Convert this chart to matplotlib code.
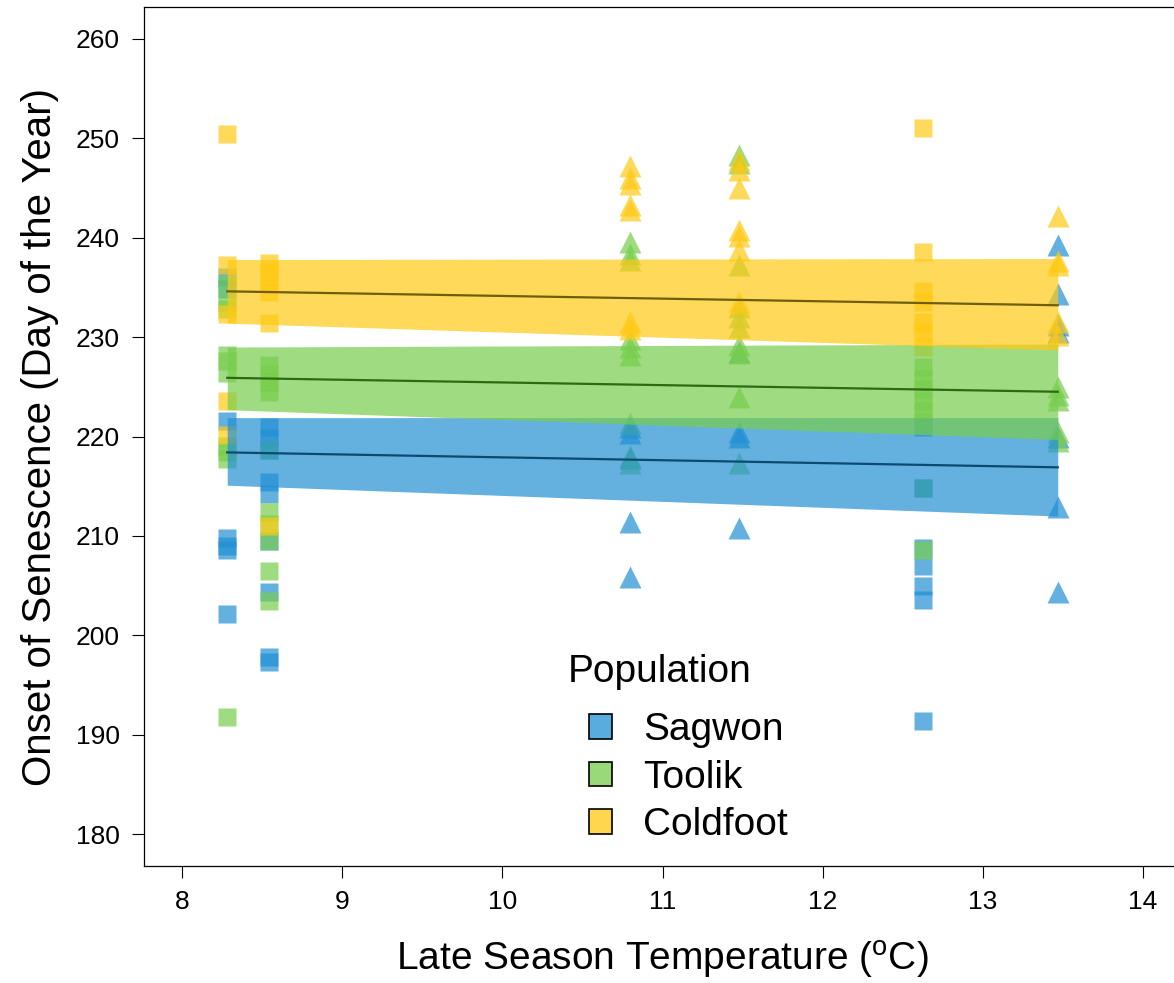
import matplotlib
matplotlib.use("Agg")
import matplotlib.pyplot as plt
from matplotlib.patches import Patch

plt.rcParams['font.family'] = ['Liberation Sans', 'DejaVu Sans']

# populations and colours
populations = ['Sagwon', 'Toolik', 'Coldfoot']
colors = ['#2290D4', '#77CD4C', '#FFC913']
line_colors = ['#0B4A72', '#2E6A14', '#6E5F0A']

# garden temperatures drawn with squares (others with triangles)
square_temps = [8.28, 8.54, 12.63]

# Sagwon
sagwon_temp = [8.28] * 7 + [8.54] * 9 + [10.80] * 5 + [11.48] * 4 + [12.63] * 7 + [13.47] * 7
sagwon_doy = [236.0, 234.8, 221.6, 209.8, 209.0, 208.6, 202.1,
              221.0, 219.8, 218.6, 215.4, 214.2, 209.5, 204.4, 197.8, 197.3,
              221.0, 220.4, 217.8, 211.4, 205.9,
              228.5, 220.5, 220.0, 210.8,
              221.0, 214.8, 208.8, 207.0, 205.0, 203.6, 191.4,
              239.3, 234.3, 231.2, 230.5, 220.0, 212.9, 204.4]

# Toolik
toolik_temp = [8.28] * 10 + [8.54] * 10 + [10.80] * 9 + [11.48] * 10 + [12.63] * 8 + [13.47] * 5
toolik_doy = [235.3, 233.5, 232.8, 228.2, 227.6, 226.4, 219.0, 218.4, 217.7, 191.8,
              227.2, 226.3, 225.5, 224.5, 218.6, 212.4, 211.2, 209.5, 206.5, 203.5,
              239.6, 238.4, 237.8, 229.8, 229.0, 228.2, 221.4, 218.0, 217.3,
              248.3, 247.5, 237.2, 233.0, 232.0, 231.0, 229.2, 228.4, 224.0, 217.3,
              227.0, 225.8, 224.8, 223.6, 222.6, 221.5, 214.8, 208.6,
              225.0, 224.2, 223.7, 220.5, 219.5]

# Coldfoot
coldfoot_temp = [8.28] * 5 + [8.54] * 6 + [10.80] * 7 + [11.48] * 7 + [12.63] * 7 + [13.47] * 5
coldfoot_doy = [250.4, 237.2, 232.3, 223.6, 220.2,
                237.5, 236.5, 235.5, 234.5, 231.4, 211.0,
                247.2, 246.0, 245.4, 243.3, 242.8, 231.5, 230.8,
                247.8, 246.8, 245.0, 240.8, 240.2, 238.8, 233.5,
                251.0, 238.6, 234.6, 233.5, 231.5, 230.5, 229.0,
                242.2, 237.7, 237.2, 231.5, 230.2]

# fitted lines and confidence bands at the ends of the temperature range
fit_temp = [8.28, 13.47]
fit_mid = [[218.4, 216.9], [225.9, 224.5], [234.6, 233.2]]
fit_lo = [[215.1, 212.0], [222.7, 219.7], [231.4, 228.7]]
fit_hi = [[221.9, 221.9], [229.0, 229.3], [237.8, 237.9]]

fig = plt.figure(figsize=(11.74, 9.83), dpi=100)
ax = fig.add_axes([144 / 1174, 117 / 983, 1037 / 1174, 859 / 983])

temps_all = [sagwon_temp, toolik_temp, coldfoot_temp]
doys_all = [sagwon_doy, toolik_doy, coldfoot_doy]

for i in range(3):
    xs_sq = [t for t, d in zip(temps_all[i], doys_all[i]) if t in square_temps]
    ys_sq = [d for t, d in zip(temps_all[i], doys_all[i]) if t in square_temps]
    xs_tr = [t for t, d in zip(temps_all[i], doys_all[i]) if t not in square_temps]
    ys_tr = [d for t, d in zip(temps_all[i], doys_all[i]) if t not in square_temps]
    ax.plot(xs_sq, ys_sq, 's', ms=12.7, color=colors[i], alpha=0.7, mec='none', zorder=2)
    ax.plot(xs_tr, ys_tr, '^', ms=16, color=colors[i], alpha=0.7, mec='none', zorder=2)

for i in range(3):
    ax.fill_between(fit_temp, fit_lo[i], fit_hi[i], color=colors[i], alpha=0.7, lw=0, zorder=3)
    ax.plot(fit_temp, fit_mid[i], color=line_colors[i], lw=1.6, zorder=4)

ax.set_xlim(7.76, 14.24)
ax.set_ylim(176.8, 263.2)
ax.set_xticks(range(8, 15))
ax.set_yticks(range(180, 261, 10))
ax.tick_params(labelsize=19, length=8.5, width=0.8, pad=9)
for s in ax.spines.values():
    s.set_linewidth(0.9)

ax.set_xlabel('Late Season Temperature ($\\mathregular{^{o}}$C)', fontsize=28, labelpad=18)
ax.set_ylabel('Onset of Senescence (Day of the Year)', fontsize=29, labelpad=12)

handles = [Patch(facecolor=matplotlib.colors.to_rgba(colors[i], 0.75), edgecolor='black', lw=1.2)
           for i in range(3)]
ax.legend(handles, populations, frameon=False, fontsize=28,
          loc='upper left', bbox_to_anchor=(589 / 1174, 1 - 712 / 983),
          bbox_transform=fig.transFigure, borderpad=0, borderaxespad=0,
          handlelength=0.6, handleheight=0.6, labelspacing=0.3, handletextpad=0.8)
fig.text(568 / 1174, 1 - 672 / 983, 'Population', fontsize=28, ha='left', va='center')

fig.savefig('out.png', dpi=100)
